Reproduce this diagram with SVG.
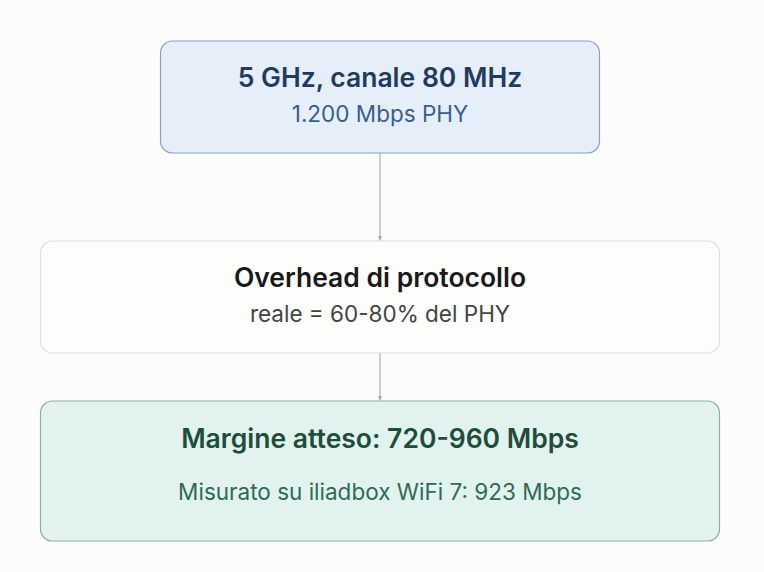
<svg xmlns="http://www.w3.org/2000/svg" width="764" height="572" viewBox="0 0 764 572">
<style>
.t{font-family:Inter,"Noto Sans","Liberation Sans",sans-serif;text-anchor:middle}
.h{font-size:26.5px;font-weight:600}
.s{font-size:22.5px;font-weight:400}
.conn{stroke:#BDBDBD;stroke-width:1.5;fill:none}
</style>
<defs>
<marker id="ah" viewBox="0 0 10 10" refX="9" refY="5" markerWidth="5" markerHeight="5" orient="auto" markerUnits="userSpaceOnUse">
<path d="M0,1 L9,5 L0,9 z" fill="#A8A8A8"/>
</marker>
</defs>
<rect width="764" height="572" fill="#FCFCFA"/>
<g id="connectors">
<line class="conn" x1="380" y1="153" x2="380" y2="240.5" marker-end="url(#ah)"/>
<line class="conn" x1="380" y1="353" x2="380" y2="400.5" marker-end="url(#ah)"/>
</g>
<g id="node-phy">
<rect x="160.5" y="41" width="439" height="112" rx="12" fill="#E6EEF9" stroke="#8DA2BE" stroke-width="1.2"/>
<text class="t h" x="380" y="87" fill="#1F3A63">5 GHz, canale 80 MHz</text>
<text class="t s" x="380" y="121.5" fill="#3A5E8C">1.200 Mbps PHY</text>
</g>
<g id="node-overhead">
<rect x="40.5" y="241" width="679" height="112" rx="12" fill="#FDFDFC" stroke="#DEDEDE" stroke-width="1.2"/>
<text class="t h" x="380" y="287" fill="#1A1A1A">Overhead di protocollo</text>
<text class="t s" x="380" y="322" fill="#444444">reale = 60-80% del PHY</text>
</g>
<g id="node-margine">
<rect x="40.5" y="401" width="679" height="140" rx="12" fill="#E2F2EE" stroke="#8DAEA3" stroke-width="1.2"/>
<text class="t h" x="380" y="448" fill="#1E4D3C">Margine atteso: 720-960 Mbps</text>
<text class="t s" x="380" y="500" fill="#2E6B57">Misurato su iliadbox WiFi 7: 923 Mbps</text>
</g>
</svg>
